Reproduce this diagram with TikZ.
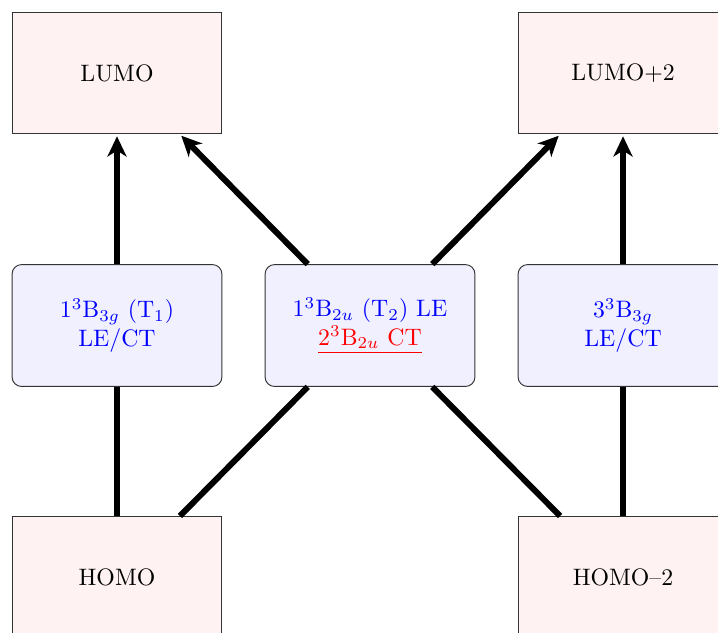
\documentclass[tikz,border=0pt]{standalone}
\usepackage{amsmath}
\usepackage{xcolor}
\usepackage{tikz}
\usetikzlibrary{positioning}
\usetikzlibrary{arrows.meta}

\begin{document}
\begin{tikzpicture}
    \tikzstyle{orbital}=[rectangle, fill=red!5, draw=black!80,
            minimum width=3.1cm, minimum height=1.8cm, inner sep=0pt]
    \tikzstyle{state}=[rectangle, rounded corners=4pt, fill=blue!6,
            draw=black!80, minimum width=3.1cm, minimum height=1.8cm,
            inner sep=0pt, align=center, text=blue]
    \tikzstyle{excite}=[line width=2.5pt,
            -{Stealth[length=8.5pt, width=8pt, inset=2.5pt]}, shorten >=0.8pt]
    \tikzstyle{link}=[line width=2.5pt]

        \useasboundingbox (-1.728,1.078) rectangle (8.877,-8.27);

        % orbitals
        \node[orbital] (lumo) at (0,0) {LUMO};
        \node[orbital] (lumo2) at (7.474,0) {LUMO+2};
        \node[orbital] (homo) at (0,-7.45) {HOMO};
        \node[orbital] (homo2) at (7.474,-7.45) {HOMO--2};

        % triplet states
        \node[state] (t1) at (0,-3.73)
            {1$^3$B$_{3g}$ (T$_1$)\\LE/CT};
        \node[state] (t2) at (3.737,-3.73)
            {1$^3$B$_{2u}$ (T$_2$) LE\\
             \textcolor{red}{\underline{2$^3$B$_{2u}$ CT}}};
        \node[state] (t3) at (7.474,-3.73)
            {3$^3$B$_{3g}$\\LE/CT};

        \draw[excite] (t1) -- (lumo);
        \draw[excite] (t3) -- (lumo2);
        \draw[excite] ([xshift=-0.92cm]t2.north) -- ([xshift=0.93cm]lumo.south);
        \draw[excite] ([xshift=0.92cm]t2.north) -- ([xshift=-0.93cm]lumo2.south);

        \draw[link] (homo) -- (t1);
        \draw[link] (homo2) -- (t3);
        \draw[link] ([xshift=0.93cm]homo.north) -- ([xshift=-0.92cm]t2.south);
        \draw[link] ([xshift=-0.93cm]homo2.north) -- ([xshift=0.92cm]t2.south);
    \end{tikzpicture}
\end{document}
